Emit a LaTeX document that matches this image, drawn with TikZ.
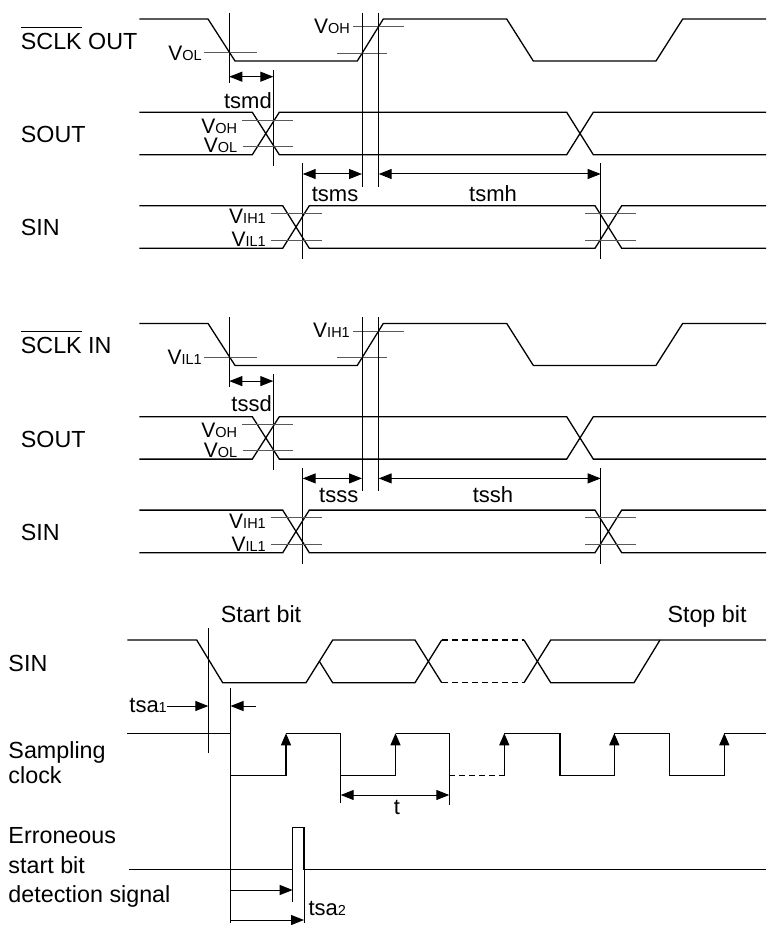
\documentclass[tikz,border=0pt]{standalone}
\usepackage{fontspec}
\setmainfont{Liberation Sans}
\usetikzlibrary{arrows.meta}
\newsavebox\ovlbox
\newcommand{\ovl}[1]{\sbox\ovlbox{#1}\rlap{\rule[21.5pt]{\wd\ovlbox}{1pt}}\usebox\ovlbox}
\newcommand{\vlab}[1]{{\fontsize{21}{21}\selectfont V}{\fontsize{14.5}{14.5}\selectfont #1}}
\newcommand{\smsub}[1]{{\fontsize{14.5}{14.5}\selectfont #1}}
\tikzset{
  wavel/.style={line width=1.3pt, line join=miter},
  refline/.style={line width=0.9pt, black!65},
  vline/.style={line width=0.9pt},
  lbl/.style={font=\fontsize{23.3}{28}\selectfont, inner sep=0pt},
  vl/.style={inner sep=0pt},
  tl/.style={font=\fontsize{22}{26}\selectfont, inner sep=0pt},
  dimarr/.style={line width=1pt, {Triangle[length=13pt,width=10pt]}-{Triangle[length=13pt,width=10pt]}},
  onearr/.style={line width=1pt, -{Triangle[length=13pt,width=10pt]}},
  clkarr/.style={line width=1.3pt, -{Triangle[length=12pt,width=10pt]}},
  dashw/.style={line width=1.3pt, dash pattern=on 6pt off 4pt},
}
% #1 y shift, #2 clock label, #3 clock low label, #4 clock high label, #5 name prefix
\newcommand{\serblock}[5]{%
\begin{scope}[shift={(0,#1)}]
  % clock
  \draw[wavel] (139.3,19) -- (208,19) -- (235,61) -- (357.3,61) -- (383.3,19) -- (506.7,19) -- (533.3,61) -- (656,61) -- (682.7,19) -- (766,19);
  \draw[refline] (204,52.7) -- (256.7,52.7);
  \draw[refline] (337.3,53.3) -- (387.3,53.3);
  \draw[refline] (353.3,26.7) -- (404,26.7);
  \node[lbl, anchor=base west] (#5clk) at (20.7,49.3) {#2};
  \node[vl, anchor=base east] (#5clklo) at (202,60.2) {#3};
  \node[vl, anchor=base east] (#5clkhi) at (350,33.3) {#4};
  % verticals
  \draw[vline] (229.3,12.7) -- (229.3,83);
  \draw[vline] (273.3,70) -- (273.3,166);
  \draw[vline] (362,12.7) -- (362,186.7);
  \draw[vline] (378.7,12.7) -- (378.7,186.7);
  \draw[vline] (302.7,163.3) -- (302.7,259.3);
  \draw[vline] (600.7,163.3) -- (600.7,259.3);
  % dimension arrows
  \draw[dimarr] (229.3,76.7) -- (273.3,76.7);
  \draw[dimarr] (302.7,174) -- (362,174);
  \draw[dimarr] (378.7,174) -- (600.7,174);
  % SOUT
  \draw[wavel] (139.3,112.3) -- (252.3,112.3) -- (279.3,154.7) -- (566.7,154.7) -- (593.3,112.3) -- (766,112.3);
  \draw[wavel] (139.3,154.7) -- (252.3,154.7) -- (279.3,112.3) -- (566.7,112.3) -- (593.3,154.7) -- (766,154.7);
  \draw[refline] (241.7,120) -- (292.7,120);
  \draw[refline] (243.3,146) -- (292.7,146);
  \node[vl, anchor=base east] (#5soh) at (237.3,133.3) {\vlab{OH}};
  \node[vl, anchor=base east] (#5sol) at (237.3,152.7) {\vlab{OL}};
  \node[lbl, anchor=base west] (#5sout) at (20.7,142.7) {SOUT};
  % SIN
  \draw[wavel] (139.3,205.7) -- (282.7,205.7) -- (309.3,248.3) -- (595,248.3) -- (621.7,205.7) -- (766,205.7);
  \draw[wavel] (139.3,248.3) -- (282.7,248.3) -- (309.3,205.7) -- (595,205.7) -- (621.7,248.3) -- (766,248.3);
  \draw[refline] (270.7,213.3) -- (321.7,213.3);
  \draw[refline] (270.7,240) -- (321.7,240);
  \draw[refline] (585,213.3) -- (635.7,213.3);
  \draw[refline] (585,240) -- (635.7,240);
  \node[vl, anchor=base east] (#5sih) at (266,224) {\vlab{IH1}};
  \node[vl, anchor=base east] (#5sil) at (266,246.7) {\vlab{IL1}};
  \node[lbl, anchor=base west] (#5sin) at (20.7,236) {SIN};
\end{scope}}
\begin{document}
\begin{tikzpicture}[x=1pt,y=-1pt]
  \useasboundingbox (0,0) rectangle (767,925);
  \fill[white] (0,0) rectangle (767,925);
  \serblock{0}{\ovl{SCLK} OUT}{\vlab{OL}}{\vlab{OH}}{a}
  \serblock{304.4}{\ovl{SCLK} IN}{\vlab{IL1}}{\vlab{IH1}}{b}
  % timing labels
  \node[tl, anchor=base east] (tsmd) at (272,108.3) {tsmd};
  \node[tl, anchor=base east] (tsms) at (358.5,201.7) {tsms};
  \node[tl, anchor=base] (tsmh) at (493,201.7) {tsmh};
  \node[tl, anchor=base east] (tssd) at (272,411) {tssd};
  \node[tl, anchor=base east] (tsss) at (358.5,502) {tsss};
  \node[tl, anchor=base] (tssh) at (493,502) {tssh};
  % ---------- bottom section ----------
  \node[lbl, anchor=base west] (startbit) at (220.7,622.7) {Start bit};
  \node[lbl, anchor=base west] (stopbit) at (667.3,622.7) {Stop bit};
  \node[lbl, anchor=base west] (sin3) at (8.3,671.7) {SIN};
  \node[lbl, anchor=base west] (samp1) at (8.3,758) {Sampling};
  \node[lbl, anchor=base west] (samp2) at (8.3,783.3) {clock};
  \node[lbl, anchor=base west] (err1) at (8.3,843.3) {Erroneous};
  \node[lbl, anchor=base west] (err2) at (8.3,873) {start bit};
  \node[lbl, anchor=base west] (err3) at (8.3,902) {detection signal};
  % SIN waveform
  \draw[wavel] (127.3,640) -- (196.7,640) -- (222.7,682.7) -- (306,682.7) -- (332.7,640) -- (415,640) -- (441.7,682.7);
  \draw[wavel] (319.3,661.3) -- (332.7,682.7) -- (415,682.7) -- (441.7,640);
  \draw[dashw] (441.7,640) -- (524,640);
  \draw[dashw] (441.7,682.7) -- (524,682.7);
  \draw[wavel] (524,640) -- (550.7,682.7) -- (634,682.7) -- (660,640);
  \draw[wavel] (524,682.7) -- (550.7,640) -- (766,640);
  % reference verticals
  \draw[vline] (208.3,628.3) -- (208.3,753.3);
  \draw[vline] (230.5,688.3) -- (230.5,923);
  % tsa1
  \node[tl, anchor=base east] (tsa1) at (167,712.5) {tsa\smsub{1}};
  \draw[onearr] (tsa1.east |- 0,706) -- (208.3,706);
  \draw[onearr] (256,706) -- (230.5,706);
  % sampling clock
  \draw[wavel] (127.3,733.3) -- (230.5,733.3) -- (230.5,775.5) -- (286,775.5);
  \draw[clkarr] (286,775.5) -- (286,733.3);
  \draw[wavel] (286,733.3) -- (340.7,733.3) -- (340.7,775.5) -- (395.5,775.5);
  \draw[clkarr] (395.5,775.5) -- (395.5,733.3);
  \draw[wavel] (395.5,733.3) -- (449.3,733.3) -- (449.3,775.5);
  \draw[dashw] (449.3,775.5) -- (504.3,775.5);
  \draw[clkarr] (504.3,775.5) -- (504.3,733.3);
  \draw[wavel] (504.3,733.3) -- (560,733.3) -- (560,775.5) -- (614.3,775.5);
  \draw[clkarr] (614.3,775.5) -- (614.3,733.3);
  \draw[wavel] (614.3,733.3) -- (669.3,733.3) -- (669.3,775.5) -- (724.3,775.5);
  \draw[clkarr] (724.3,775.5) -- (724.3,733.3);
  \draw[wavel] (724.3,733.3) -- (766,733.3);
  % period t
  \draw[vline] (340.7,775.5) -- (340.7,803.3);
  \draw[vline] (449.3,775.5) -- (449.3,805);
  \draw[dimarr] (340.7,795) -- (449.3,795);
  \node[tl, anchor=base] (tper) at (397,814) {t};
  % erroneous start bit detection signal
  \draw[wavel] (129.3,869.3) -- (292.7,869.3) -- (292.7,827.3) -- (304,827.3) -- (304,869.3) -- (766,869.3);
  \draw[vline] (292.7,869.3) -- (292.7,901.7);
  \draw[vline] (304,869.3) -- (304,923);
  \draw[onearr] (230.5,890) -- (292.7,890);
  \draw[onearr] (230.5,920) -- (304,920);
  \node[tl, anchor=base west] (tsa2) at (308.3,915) {tsa\smsub{2}};
\end{tikzpicture}
\end{document}
